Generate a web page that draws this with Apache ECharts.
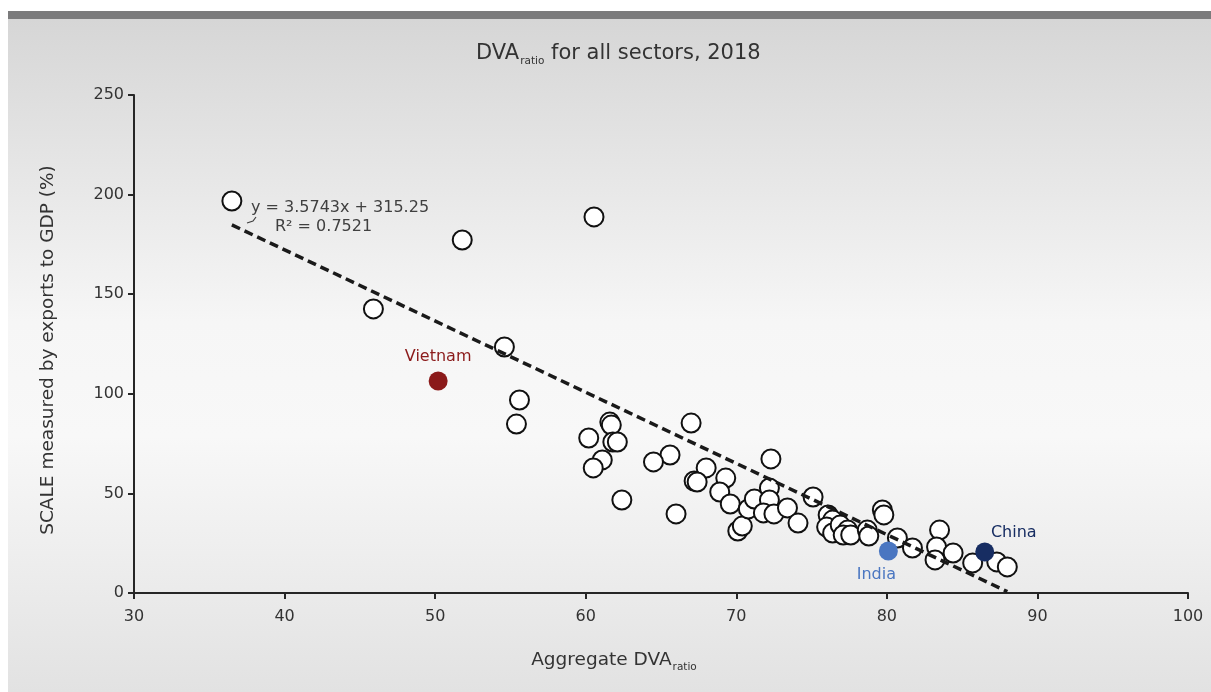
<!DOCTYPE html>
<html>
<head>
<meta charset="utf-8">
<script src="https://cdn.jsdelivr.net/npm/echarts@6/dist/echarts.min.js"></script>
<style>
html,body{margin:0;padding:0;background:#fff;}
#c{width:1211px;height:692px;}
</style>
</head>
<body>
<div id="c"></div>
<script>
// ---- data ----
const dvaRatio = [36.5, 60.55, 51.8, 45.9, 54.6, 55.6, 55.4, 67.0, 61.6, 61.7, 60.2, 61.8, 62.1, 61.1, 60.5, 72.3, 65.6, 64.5, 68.0, 62.4, 66.0, 67.2, 67.4, 69.3, 68.9, 69.6, 70.1, 70.4, 70.8, 71.2, 72.2, 72.2, 71.8, 72.5, 73.4, 74.1, 75.1, 76.1, 76.4, 76.0, 76.4, 76.9, 77.4, 77.1, 77.6, 78.7, 78.8, 79.7, 79.8, 80.7, 81.7, 83.5, 83.3, 83.2, 84.4, 85.7, 87.3, 88.0];
const scaleExports = [196.8, 188.8, 177.2, 142.6, 123.5, 96.9, 84.8, 85.3, 85.8, 84.3, 77.8, 75.8, 75.8, 66.8, 62.8, 67.3, 69.3, 65.8, 62.8, 46.7, 39.7, 56.2, 55.7, 57.7, 50.7, 44.7, 31.1, 33.6, 42.2, 47.2, 52.7, 46.7, 40.2, 39.7, 42.7, 35.1, 48.2, 39.2, 36.6, 33.1, 30.1, 34.1, 31.6, 29.1, 29.1, 31.6, 28.6, 41.7, 39.2, 27.6, 22.6, 31.6, 23.1, 16.6, 20.1, 15.1, 15.6, 13.1];
const highlightNames = ['Vietnam', 'India', 'China'];
const highlightX = [50.2, 80.1, 86.5];
const highlightY = [106.4, 21.1, 20.6];
const trendSlope = -3.5743;
const trendIntercept = 315.25;
const trendRange = [36.5, 88.0];
const xTicks = [30, 40, 50, 60, 70, 80, 90, 100];
const yTicks = [0, 50, 100, 150, 200, 250];

const FONT = 'DejaVu Sans';
const pts = dvaRatio.map((x, i) => [x, scaleExports[i]]);
const trendPts = trendRange.map(x => [x, trendSlope * x + trendIntercept]);

const hlStyle = {
  Vietnam: {color: '#8b1a1a', pos: 'top', offset: [0, -1]},
  India:   {color: '#4a76c1', pos: 'bottom', offset: [-12, 0]},
  China:   {color: '#172d62', pos: 'top', offset: [29, 4]}
};
const hlSeries = highlightNames.map((n, i) => ({
  type: 'scatter', name: n, z: 4,
  symbol: 'circle', symbolSize: 19,
  data: [[highlightX[i], highlightY[i]]],
  itemStyle: {color: hlStyle[n].color, borderColor: hlStyle[n].color, borderWidth: 0, opacity: 1},
  label: {show: true, formatter: n, position: hlStyle[n].pos, offset: hlStyle[n].offset,
          color: hlStyle[n].color, fontFamily: FONT, fontSize: 16, distance: 6}
}));

const chart = echarts.init(document.getElementById('c'), null, {renderer: 'canvas'});
chart.setOption({
  animation: false,
  backgroundColor: '#ffffff',
  graphic: [
    {type: 'rect', z: -100, silent: true, shape: {x: 8, y: 11, width: 1203, height: 8}, style: {fill: '#7b7b7c'}},
    {type: 'rect', z: -100, silent: true, shape: {x: 8, y: 19, width: 1203, height: 673},
     style: {fill: new echarts.graphic.LinearGradient(0, 0, 0, 1, [
       {offset: 0, color: '#d6d6d6'},
       {offset: 0.45, color: '#f6f6f6'},
       {offset: 0.62, color: '#f8f8f8'},
       {offset: 1, color: '#e2e2e2'}
     ])}},
    {type: 'text', z: 10, left: 251, top: 200,
     style: {text: 'y = 3.5743x + 315.25', fill: '#404040', font: '16px "DejaVu Sans"'}},
    {type: 'text', z: 10, left: 275, top: 219,
     style: {text: 'R\u00b2 = 0.7521', fill: '#404040', font: '16px "DejaVu Sans"'}},
    {type: 'polyline', z: 10, shape: {points: [[256, 217], [253, 221], [247, 223]]},
     style: {stroke: '#404040', lineWidth: 1.2, fill: null}}
  ],
  title: {
    text: '{a|DVA}{s|ratio}{a| for all sectors, 2018}',
    left: 471, top: 38,
    textStyle: {
      fontWeight: 'normal',
      rich: {
        a: {fontFamily: FONT, fontSize: 21, fontWeight: 'normal', color: '#333', lineHeight: 24, verticalAlign: 'top'},
        s: {fontFamily: FONT, fontSize: 10.5, fontWeight: 'normal', color: '#333', lineHeight: 12, padding: [16, 0, 0, 1], verticalAlign: 'bottom'}
      }
    }
  },
  grid: {left: 134, right: 23, top: 95, bottom: 99, containLabel: false},
  xAxis: {
    type: 'value', min: xTicks[0], max: xTicks[xTicks.length - 1], interval: 10,
    name: '{a|Aggregate DVA}{s|ratio}', nameLocation: 'middle', nameGap: 58,
    nameTextStyle: {
      padding: [0, 94, 0, 0],
      rich: {
        a: {fontFamily: FONT, fontSize: 18.5, color: '#333', lineHeight: 22, verticalAlign: 'top'},
        s: {fontFamily: FONT, fontSize: 10.5, color: '#333', lineHeight: 12, padding: [14, 0, 0, 1], verticalAlign: 'bottom'}
      }
    },
    axisLine: {onZero: false, lineStyle: {color: '#262626', width: 2}},
    axisTick: {show: true, length: 6, inside: false, lineStyle: {color: '#262626', width: 2}},
    axisLabel: {fontFamily: FONT, fontSize: 16, color: '#333', margin: 16},
    splitLine: {show: false}
  },
  yAxis: {
    type: 'value', min: yTicks[0], max: yTicks[yTicks.length - 1], interval: 50,
    name: 'SCALE measured by exports to GDP (%)', nameLocation: 'middle', nameGap: 76, nameRotate: 90,
    nameTextStyle: {fontFamily: FONT, fontSize: 18.5, color: '#333', padding: [0, 12, 0, 0]},
    axisLine: {onZero: false, lineStyle: {color: '#262626', width: 2}},
    axisTick: {show: true, length: 6, inside: false, lineStyle: {color: '#262626', width: 2}},
    axisLabel: {fontFamily: FONT, fontSize: 16, color: '#333', margin: 10},
    splitLine: {show: false}
  },
  series: [
    {
      type: 'scatter', name: 'countries', z: 2,
      symbol: 'circle', symbolSize: 19,
      data: pts,
      itemStyle: {color: '#ffffff', borderColor: '#111111', borderWidth: 2, opacity: 1}
    },
    ...hlSeries,
    {
      type: 'line', name: 'trend', z: 5,
      data: trendPts, showSymbol: false, symbol: 'none',
      lineStyle: {color: '#1a1a1a', width: 3.5, type: [9, 5]}
    }
  ]
});
</script>
</body>
</html>
